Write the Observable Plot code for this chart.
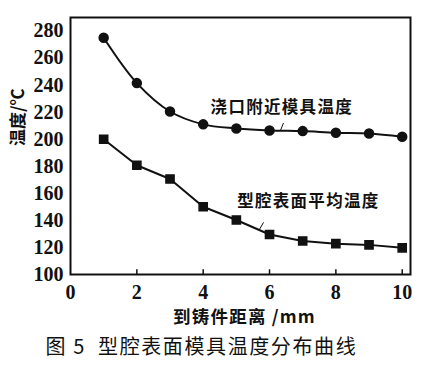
<!DOCTYPE html>
<html><head><meta charset="utf-8">
<script src="https://cdn.jsdelivr.net/npm/d3@7"></script>
<script src="https://cdn.jsdelivr.net/npm/@observablehq/plot@0.6"></script>
<style>body{margin:0;background:#fff}</style>
</head><body><div id="chart"></div>
<script>
const distance = [1, 2, 3, 4, 5, 6, 7, 8, 9, 10];
const gateTemp = [275, 241.5, 220.5, 211, 208, 206.5, 206, 204.8, 204.2, 201.8];
const cavityTemp = [200, 180.8, 170.6, 150.1, 140.3, 129.6, 124.8, 122.8, 121.9, 119.7];
const xTicks = [0, 2, 4, 6, 8, 10];
const yTicks = [100, 120, 140, 160, 180, 200, 220, 240, 260, 280];
const gateLabel = "浇口附近模具温度";
const cavityLabel = "型腔表面平均温度";
const xLabel = "到铸件距离 /mm";
const yLabel = "温度/℃";
const caption = "图 5  型腔表面模具温度分布曲线";

const gate = distance.map((d, i) => ({x: d, y: gateTemp[i]}));
const cavity = distance.map((d, i) => ({x: d, y: cavityTemp[i]}));
const cjk = "'Noto Sans CJK SC', sans-serif";

const chart = Plot.plot({
  width: 448, height: 372,
  marginLeft: 70, marginRight: 38, marginTop: 17, marginBottom: 98,
  style: {fontFamily: "'Liberation Serif', serif", background: "#fff", color: "#111"},
  x: {domain: [0, 10.25]},
  y: {domain: [100, 290]},
  marks: [
    Plot.axisX({ticks: xTicks, tickSize: 0, tickPadding: 10, fontSize: 20, fontWeight: "bold", label: null}),
    Plot.axisY({ticks: yTicks, tickSize: 0, tickPadding: 7, fontSize: 20, fontWeight: "bold", label: null}),
    Plot.ruleX(xTicks.slice(1), {y1: 100, y2: 103.5, stroke: "#111", strokeWidth: 1.5}),
    Plot.frame({stroke: "#111", strokeWidth: 2}),
    Plot.line(gate, {x: "x", y: "y", stroke: "#111", strokeWidth: 2, curve: "catmull-rom"}),
    Plot.dot(gate, {x: "x", y: "y", r: 4.5, fill: "#111", stroke: "#111", symbol: "circle"}),
    Plot.line(cavity, {x: "x", y: "y", stroke: "#111", strokeWidth: 2}),
    Plot.dot(cavity, {x: "x", y: "y", r: 4.6, fill: "#111", stroke: "#111", symbol: "square"}),
    Plot.text([gateLabel], {x: 6.37, y: 223, text: d => d, fontSize: 16.5, fontWeight: "bold", fontFamily: cjk, fill: "#111"}),
    Plot.text([cavityLabel], {x: 7.17, y: 153.5, text: d => d, fontSize: 16.5, fontWeight: "bold", fontFamily: cjk, fill: "#111"}),
    Plot.link([{x1: 6.42, y1: 212, x2: 6.33, y2: 206.5}], {x1: "x1", y1: "y1", x2: "x2", y2: "y2", stroke: "#111", strokeWidth: 1}),
    Plot.link([{x1: 5.82, y1: 138.5, x2: 5.70, y2: 133.5}], {x1: "x1", y1: "y1", x2: "x2", y2: "y2", stroke: "#111", strokeWidth: 1}),
    Plot.text([yLabel], {frameAnchor: "left", dx: -52, text: d => d, rotate: -90, fontSize: 17, fontWeight: "bold", fontFamily: cjk, fill: "#111"}),
    Plot.text([xLabel], {frameAnchor: "bottom", dx: 4, dy: 48, text: d => d, fontSize: 17.5, fontWeight: "bold", fontFamily: cjk, fill: "#111"}),
    Plot.text([caption], {frameAnchor: "bottom-left", dx: -25, dy: 79, textAnchor: "start", text: d => d, fontSize: 20, fontFamily: cjk, fill: "#111"})
  ]
});
const spacing = new Map([[gateLabel, "1.3px"], [cavityLabel, "1.3px"], [xLabel, "1.2px"], [caption, "1.6px"]]);
d3.select(chart).selectAll("text").each(function() {
  const s = spacing.get(this.textContent);
  if (s) this.setAttribute("letter-spacing", s);
});
document.getElementById("chart").appendChild(chart);
</script>
</body></html>
